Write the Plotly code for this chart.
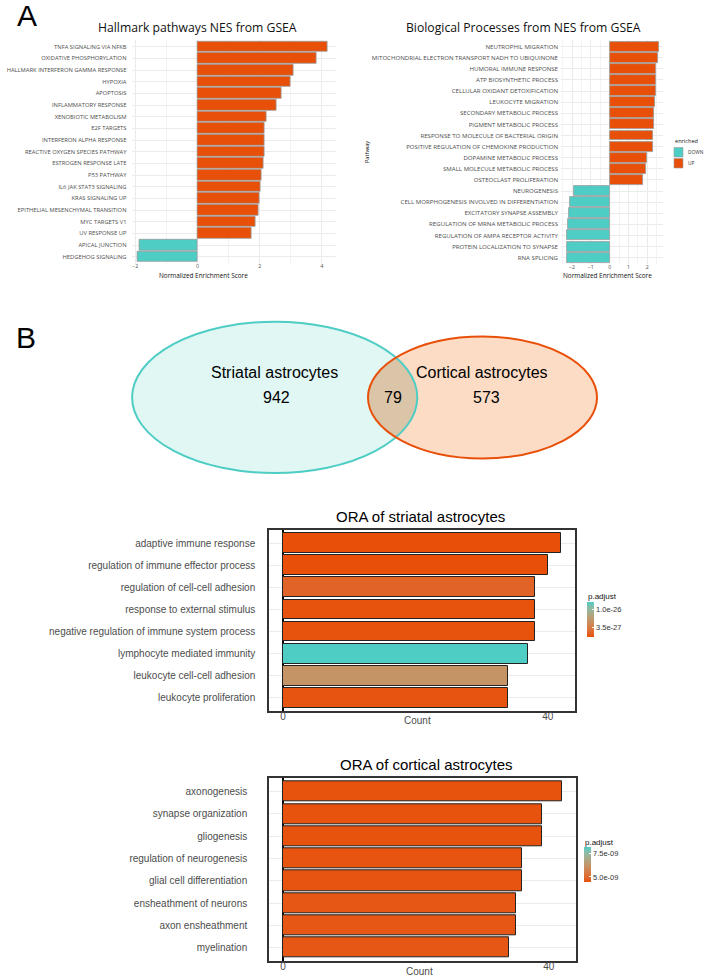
import numpy as np
import plotly.graph_objects as go

W, H = 708, 980

# ---------------- DATA ----------------
hallmark_pathways = [
    "TNFA SIGNALING VIA NFKB", "OXIDATIVE PHOSPHORYLATION", "HALLMARK INTERFERON GAMMA RESPONSE",
    "HYPOXIA", "APOPTOSIS", "INFLAMMATORY RESPONSE", "XENOBIOTIC METABOLISM", "E2F TARGETS",
    "INTERFERON ALPHA RESPONSE", "REACTIVE OXYGEN SPECIES PATHWAY", "ESTROGEN RESPONSE LATE",
    "P53 PATHWAY", "IL6 JAK STAT3 SIGNALING", "KRAS SIGNALING UP", "EPITHELIAL MESENCHYMAL TRANSITION",
    "MYC TARGETS V1", "UV RESPONSE UP", "APICAL JUNCTION", "HEDGEHOG SIGNALING"]
hallmark_nes = [4.17, 3.81, 3.07, 3.00, 2.69, 2.54, 2.22, 2.15, 2.15, 2.14, 2.13,
                2.07, 2.02, 1.99, 1.95, 1.86, 1.75, -1.86, -1.93]

bp_pathways = [
    "NEUTROPHIL MIGRATION", "MITOCHONDRIAL ELECTRON TRANSPORT NADH TO UBIQUINONE",
    "HUMORAL IMMUNE RESPONSE", "ATP BIOSYNTHETIC PROCESS", "CELLULAR OXIDANT DETOXIFICATION",
    "LEUKOCYTE MIGRATION", "SECONDARY METABOLIC PROCESS", "PIGMENT METABOLIC PROCESS",
    "RESPONSE TO MOLECULE OF BACTERIAL ORIGIN", "POSITIVE REGULATION OF CHEMOKINE PRODUCTION",
    "DOPAMINE METABOLIC PROCESS", "SMALL MOLECULE METABOLIC PROCESS", "OSTEOCLAST PROLIFERATION",
    "NEUROGENESIS", "CELL MORPHOGENESIS INVOLVED IN DIFFERENTIATION", "EXCITATORY SYNAPSE ASSEMBLY",
    "REGULATION OF MRNA METABOLIC PROCESS", "REGULATION OF AMPA RECEPTOR ACTIVITY",
    "PROTEIN LOCALIZATION TO SYNAPSE", "RNA SPLICING"]
bp_nes = [2.61, 2.58, 2.49, 2.47, 2.45, 2.40, 2.38, 2.38, 2.31, 2.29, 2.01, 1.95, 1.76,
          -1.89, -2.12, -2.17, -2.22, -2.28, -2.29, -2.29]

venn_sets = ["Striatal astrocytes", "Cortical astrocytes"]
venn_counts = [942, 79, 573]  # striatal only, overlap, cortical only

striatal_terms = ["adaptive immune response", "regulation of immune effector process",
                  "regulation of cell-cell adhesion", "response to external stimulus",
                  "negative regulation of immune system process", "lymphocyte mediated immunity",
                  "leukocyte cell-cell adhesion", "leukocyte proliferation"]
striatal_count = [42, 40, 38, 38, 38, 37, 34, 34]
striatal_padj = [5e-29, 5e-29, 1.5e-27, 2e-28, 2e-28, 1.28e-26, 6.0e-27, 3e-28]
striatal_cb_ticks = [1.0e-26, 3.5e-27]
striatal_cb_text = ["1.0e-26", "3.5e-27"]
striatal_range = [3e-29, 1.28e-26]

cortical_terms = ["axonogenesis", "synapse organization", "gliogenesis",
                  "regulation of neurogenesis", "glial cell differentiation",
                  "ensheathment of neurons", "axon ensheathment", "myelination"]
cortical_count = [42, 39, 39, 36, 36, 35, 35, 34]
cortical_padj = [4.5e-9, 4.5e-9, 4.5e-9, 4.55e-9, 4.55e-9, 4.6e-9, 4.6e-9, 4.6e-9]
cortical_cb_ticks = [7.5e-9, 5.0e-9]
cortical_cb_text = ["7.5e-09", "5.0e-09"]
cortical_range = [4.46e-9, 8.2e-9]

# ---------------- STYLE ----------------
ORANGE = "#E8500A"
TEAL = "#4ECDC4"
GRID = "#EBEBEB"
MINOR = "#F3F3F3"
A_FONT = "Open Sans"
B_FONT = "Liberation Sans, Arial"


def px_x(v):
    return v / W


def px_y(v):
    return 1 - v / H


# Lab interpolated colour scale (low = orange, high = teal)
def hex2rgb(h):
    h = h.lstrip("#")
    return np.array([int(h[i:i + 2], 16) for i in (0, 2, 4)], float)


M = np.array([[0.4124, 0.3576, 0.1805], [0.2126, 0.7152, 0.0722], [0.0193, 0.1192, 0.9505]])
WHITE = np.array([0.95047, 1.0, 1.08883])


def rgb2lab(rgb):
    c = rgb / 255
    lin = np.where(c <= 0.04045, c / 12.92, ((c + 0.055) / 1.055) ** 2.4)
    xyz = M @ lin / WHITE
    f = np.where(xyz > 0.008856, np.cbrt(xyz), 7.787 * xyz + 16 / 116)
    return np.array([116 * f[1] - 16, 500 * (f[0] - f[1]), 200 * (f[1] - f[2])])


def lab2rgb(lab):
    fy = (lab[0] + 16) / 116
    fx = fy + lab[1] / 500
    fz = fy - lab[2] / 200
    f = np.array([fx, fy, fz])
    xyz = np.where(f ** 3 > 0.008856, f ** 3, (f - 16 / 116) / 7.787) * WHITE
    lin = np.clip(np.linalg.solve(M, xyz), 0, 1)
    c = np.where(lin <= 0.0031308, 12.92 * lin, 1.055 * lin ** (1 / 2.4) - 0.055)
    return "rgb(%d,%d,%d)" % tuple(np.clip(np.round(c * 255), 0, 255))


lab_lo, lab_hi = rgb2lab(hex2rgb(ORANGE)), rgb2lab(hex2rgb(TEAL))
cscale = [[t, lab2rgb(lab_lo + (lab_hi - lab_lo) * t)] for t in np.linspace(0, 1, 11)]

fig = go.Figure()

# ---------------- Panel A ----------------
fig.add_trace(go.Bar(
    x=hallmark_nes, y=hallmark_pathways, orientation="h", width=0.9,
    marker=dict(color=[ORANGE if v > 0 else TEAL for v in hallmark_nes],
                line=dict(color="#9A9A9A", width=0.8)),
    xaxis="x", yaxis="y", showlegend=False))

fig.add_trace(go.Bar(
    x=bp_nes, y=bp_pathways, orientation="h", width=0.9,
    marker=dict(color=[ORANGE if v > 0 else TEAL for v in bp_nes],
                line=dict(color="#9A9A9A", width=0.8)),
    xaxis="x2", yaxis="y2", showlegend=False))

# ---------------- Panel B: ORA ----------------
fig.add_trace(go.Bar(
    x=striatal_count, y=striatal_terms, orientation="h", width=0.9,
    marker=dict(color=striatal_padj, coloraxis="coloraxis",
                line=dict(color="#222222", width=1.0)),
    xaxis="x3", yaxis="y3", showlegend=False))

fig.add_trace(go.Bar(
    x=cortical_count, y=cortical_terms, orientation="h", width=0.9,
    marker=dict(color=cortical_padj, coloraxis="coloraxis2",
                line=dict(color="#222222", width=1.0)),
    xaxis="x4", yaxis="y4", showlegend=False))


def cat_range(n):
    return [n - 1 + 0.6, -0.6]


tickA = dict(family=A_FONT, size=5.8, color="#4D4D4D")
tickA2 = dict(family=A_FONT, size=6.1, color="#4D4D4D")
tickAx = dict(family=A_FONT, size=5.2, color="#4D4D4D")
tickB = dict(family=B_FONT, size=10, color="#4D4D4D")

layout = dict(
    width=W, height=H, margin=dict(l=0, r=0, t=0, b=0),
    paper_bgcolor="white", plot_bgcolor="white", bargap=0, showlegend=False,
    xaxis=dict(domain=[px_x(131.5), px_x(336)], range=[-2.12, 4.45], dtick=2, tick0=0,
               showgrid=True, gridcolor=GRID, gridwidth=1, zeroline=False,
               minor=dict(dtick=1, tick0=0, showgrid=True, gridcolor=MINOR, gridwidth=0.7),
               tickfont=tickAx, ticks="", ticklabelstandoff=-2, anchor="y"),
    yaxis=dict(domain=[px_y(263.7), px_y(39.7)], type="category",
               categoryorder="array", categoryarray=hallmark_pathways,
               range=cat_range(len(hallmark_pathways)), showgrid=True, gridcolor=GRID,
               gridwidth=1, tickfont=tickA, ticks="", ticklabelstandoff=4, anchor="x"),
    xaxis2=dict(domain=[px_x(561), px_x(663)], range=[-2.59, 2.84], dtick=1, tick0=0,
                showgrid=True, gridcolor=GRID, gridwidth=1, zeroline=False,
                minor=dict(dtick=0.5, tick0=0, showgrid=True, gridcolor=MINOR, gridwidth=0.7),
                tickfont=tickAx, ticks="", ticklabelstandoff=-2, anchor="y2"),
    yaxis2=dict(domain=[px_y(264.3), px_y(40)], type="category",
                categoryorder="array", categoryarray=bp_pathways,
                range=cat_range(len(bp_pathways)), showgrid=True, gridcolor=GRID,
                gridwidth=1, tickfont=tickA2, ticks="", ticklabelstandoff=2, anchor="x2"),
    xaxis3=dict(domain=[px_x(269), px_x(575)], range=[-2.1, 44.1], tickvals=[0, 40],
                showgrid=False, zeroline=True, zerolinecolor="black", zerolinewidth=2,
                showline=True, mirror=True, linecolor="#333333", linewidth=1.5,
                tickfont=tickB, ticks="", ticklabelstandoff=-5, anchor="y3"),
    yaxis3=dict(domain=[px_y(711), px_y(530)], type="category",
                categoryorder="array", categoryarray=striatal_terms,
                range=cat_range(len(striatal_terms)), showgrid=True, gridcolor=GRID,
                showline=True, mirror=True, linecolor="#333333", linewidth=1.5,
                tickfont=tickB, ticks="", ticklabelstandoff=10, anchor="x3"),
    xaxis4=dict(domain=[px_x(269), px_x(576)], range=[-2.1, 44.1], tickvals=[0, 40],
                showgrid=False, zeroline=True, zerolinecolor="black", zerolinewidth=2,
                showline=True, mirror=True, linecolor="#333333", linewidth=1.5,
                tickfont=tickB, ticks="", ticklabelstandoff=-5, anchor="y4"),
    yaxis4=dict(domain=[px_y(961), px_y(778.3)], type="category",
                categoryorder="array", categoryarray=cortical_terms,
                range=cat_range(len(cortical_terms)), showgrid=True, gridcolor=GRID,
                showline=True, mirror=True, linecolor="#333333", linewidth=1.5,
                tickfont=tickB, ticks="", ticklabelstandoff=18, anchor="x4"),
    coloraxis=dict(colorscale=cscale, cmin=striatal_range[0], cmax=striatal_range[1],
                   colorbar=dict(x=px_x(586.5), xanchor="left", y=px_y(619.2), yanchor="middle",
                                 len=35, lenmode="pixels", thickness=7, outlinewidth=0,
                                 xpad=0, ypad=0, tickvals=striatal_cb_ticks,
                                 ticktext=striatal_cb_text, ticks="inside", ticklen=2,
                                 tickcolor="white",
                                 tickfont=dict(family=B_FONT, size=7.5, color="#333333"))),
    coloraxis2=dict(colorscale=cscale, cmin=cortical_range[0], cmax=cortical_range[1],
                    colorbar=dict(x=px_x(584), xanchor="left", y=px_y(864.5), yanchor="middle",
                                  len=35, lenmode="pixels", thickness=7, outlinewidth=0,
                                  xpad=0, ypad=0, tickvals=cortical_cb_ticks,
                                  ticktext=cortical_cb_text, ticks="inside", ticklen=2,
                                  tickcolor="white",
                                  tickfont=dict(family=B_FONT, size=7.5, color="#333333"))),
)
fig.update_layout(**layout)

# ---------------- Venn ----------------
teal_c, teal_r = (274.7, 397.4), (142.6, 75.7)
orng_c, orng_r = (482.5, 397.5), (114.5, 61.0)


def ellipse_box(c, r):
    return dict(x0=px_x(c[0] - r[0]), x1=px_x(c[0] + r[0]),
                y0=px_y(c[1] + r[1]), y1=px_y(c[1] - r[1]))


def inside(px, py, c, r):
    return ((px - c[0]) / r[0]) ** 2 + ((py - c[1]) / r[1]) ** 2 <= 1


th = np.linspace(-np.pi, np.pi, 2001)
tx = teal_c[0] + teal_r[0] * np.cos(th)
ty = teal_c[1] + teal_r[1] * np.sin(th)
m1 = inside(tx, ty, orng_c, orng_r)
th2 = np.linspace(0, 2 * np.pi, 2001)
ox = orng_c[0] + orng_r[0] * np.cos(th2)
oy = orng_c[1] + orng_r[1] * np.sin(th2)
m2 = inside(ox, oy, teal_c, teal_r)
lens_x = np.concatenate([tx[m1], ox[m2]])
lens_y = np.concatenate([ty[m1], oy[m2]])
lens_path = "M " + " L ".join("%.5f,%.5f" % (px_x(a), px_y(b)) for a, b in zip(lens_x, lens_y)) + " Z"

shapes = [
    dict(type="circle", xref="paper", yref="paper", fillcolor="#E0F7F4",
         line=dict(width=0), layer="above", **ellipse_box(teal_c, teal_r)),
    dict(type="circle", xref="paper", yref="paper", fillcolor="#FDDCC5",
         line=dict(width=0), layer="above", **ellipse_box(orng_c, orng_r)),
    dict(type="path", xref="paper", yref="paper", path=lens_path, fillcolor="#DBC5A9",
         line=dict(width=0), layer="above"),
    dict(type="circle", xref="paper", yref="paper", fillcolor="rgba(0,0,0,0)",
         line=dict(color=TEAL, width=2), layer="above", **ellipse_box(teal_c, teal_r)),
    dict(type="circle", xref="paper", yref="paper", fillcolor="rgba(0,0,0,0)",
         line=dict(color="#E8500A", width=2), layer="above", **ellipse_box(orng_c, orng_r)),
    # legend keys for panel A right
    dict(type="rect", xref="paper", yref="paper", x0=px_x(674), x1=px_x(683),
         y0=px_y(157), y1=px_y(147.5), fillcolor=TEAL, line=dict(color="#9A9A9A", width=0.6)),
    dict(type="rect", xref="paper", yref="paper", x0=px_x(674), x1=px_x(683),
         y0=px_y(168), y1=px_y(158.5), fillcolor=ORANGE, line=dict(color="#9A9A9A", width=0.6)),
]
fig.update_layout(shapes=shapes)


def ann(text, x, y, size, family, color="black", xanchor="center", angle=0):
    fig.add_annotation(text=text, x=px_x(x), y=px_y(y), xref="paper", yref="paper",
                       showarrow=False, xanchor=xanchor, yanchor="middle", textangle=angle,
                       borderpad=0, font=dict(size=size, family=family, color=color))


ann("A", 26.7, 16, 30, "Liberation Sans, Arial")
ann("B", 26, 337, 30, "Liberation Sans, Arial")
ann("Hallmark pathways NES from GSEA", 198, 27.7, 12.2, A_FONT, "#111111")
ann("Biological Processes from NES from GSEA", 523.7, 27.7, 12.2, A_FONT, "#111111")
ann("Normalized Enrichment Score", 203.7, 275.5, 6.4, A_FONT, "#111111")
ann("Normalized Enrichment Score", 607.2, 275.5, 6.4, A_FONT, "#111111")
ann("Pathway", 367, 152, 5.6, A_FONT, "#111111", angle=-90)
ann("enriched", 674, 140.7, 5.6, A_FONT, "#111111", xanchor="left")
ann("DOWN", 686.5, 152.3, 4.8, A_FONT, "#333333", xanchor="left")
ann("UP", 686.5, 163.3, 4.8, A_FONT, "#333333", xanchor="left")

ann(venn_sets[0], 274.7, 372.7, 16, B_FONT)
ann(str(venn_counts[0]), 276.7, 397.7, 16, B_FONT)
ann(str(venn_counts[1]), 393, 397.7, 16, B_FONT)
ann(venn_sets[1], 481.7, 372.7, 16, B_FONT)
ann(str(venn_counts[2]), 486.7, 397.7, 16, B_FONT)

ann("ORA of striatal astrocytes", 420, 516.7, 15, B_FONT)
ann("ORA of cortical astrocytes", 426.7, 764, 15, B_FONT)
ann("Count", 417.3, 720.7, 10, B_FONT, "#4D4D4D")
ann("Count", 419.3, 971, 10, B_FONT, "#4D4D4D")
ann("p.adjust", 586.5, 596, 8, B_FONT, "#111111", xanchor="left")
ann("p.adjust", 584, 842.3, 8, B_FONT, "#111111", xanchor="left")

# remove the browser's default 8px body margin so the figure sits at the page origin
fig.write_html("out.html", config={"displayModeBar": False},
               post_script="document.body.style.margin='0';document.body.style.padding='0';")
